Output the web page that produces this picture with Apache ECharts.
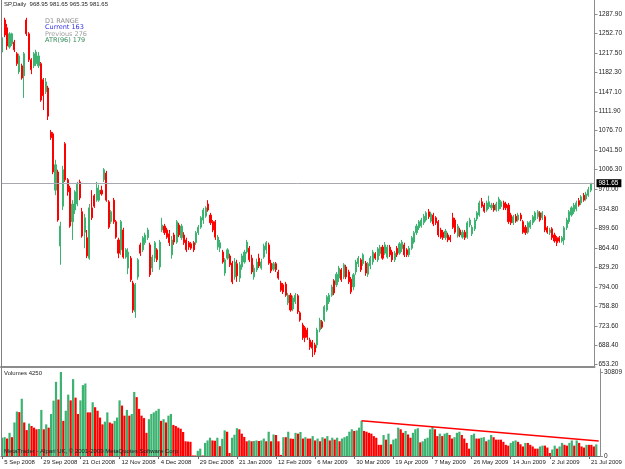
<!DOCTYPE html>
<html lang="en">
<head>
<meta charset="UTF-8">
<title>SP,Daily</title>
<script src="https://cdn.jsdelivr.net/npm/echarts@6/dist/echarts.min.js"></script>
<style>
    html, body { margin: 0; padding: 0; background: #fff; }
    #main { width: 625px; height: 469px; }
</style>
</head>
<body>
<div id="main"></div>
<script>
    // daily bars (5 Sep 2008 .. 24 Jul 2009)
    var opens = [
        1219,1277,1263,1228,1234,1237,1216,1183,1194,1176,
        1277,1252,1205,1194,1198,1194,1198,1169,1147,1154,
        1074,1071,969,1002,868,940,1053,988,973,912,
        933,944,984,930,893,883,846,937,959,951,
        951,969,988,1000,948,912,951,912,879,861,
        897,848,828,846,801,749,812,870,861,874,
        883,870,828,846,861,830,897,904,897,890,
        852,888,875,906,883,888,879,874,872,874,
        874,892,902,915,922,944,924,912,912,866,
        864,857,819,846,850,837,812,836,810,830,
        839,857,864,846,812,825,846,828,848,861,
        870,837,826,836,821,801,798,799,765,779,
        754,767,778,747,725,720,716,698,694,689,
        689,716,731,734,752,767,779,805,798,810,
        825,812,830,821,808,794,821,836,843,836,
        837,817,832,839,854,843,854,866,855,848,
        866,857,843,864,855,863,870,861,852,864,
        875,892,901,904,910,915,930,913,924,919,
        912,897,893,883,888,884,919,915,886,897,
        884,893,884,906,890,899,917,924,948,942,
        933,939,937,942,933,935,939,946,944,942,
        924,910,922,915,924,912,902,893,902,910,
        915,921,928,919,921,901,892,899,888,883,
        883,877,879,901,912,924,930,935,950,946,
        960,953,960,968.95
    ];
    var closes = [
        1245,1250,1230,1252,1252,1223,1198,1212,1172,1216,
        1252,1205,1187,1216,1219,1212,1132,1140,1165,1103,
        1064,1002,1015,915,904,1006,988,966,904,944,
        966,980,955,886,919,850,937,919,940,973,
        969,962,1006,951,902,930,912,884,855,912,
        848,861,857,807,752,798,843,855,883,888,
        897,816,848,874,843,875,906,892,884,874,
        879,875,912,888,904,874,861,866,864,861,
        892,902,919,933,937,933,910,897,884,884,
        874,839,843,861,834,803,839,814,834,850,
        857,875,843,821,828,839,832,839,868,874,
        837,823,836,825,810,788,785,779,779,752,
        774,779,749,734,702,702,703,685,683,676,
        716,734,721,758,776,779,794,783,817,828,
        807,834,812,803,785,816,839,846,825,852,
        819,836,846,857,846,863,866,846,870,866,
        852,843,855,852,872,875,852,852,864,883,
        892,904,912,915,922,928,921,926,908,910,
        888,884,883,895,879,879,902,893,904,888,
        893,883,910,915,902,915,928,946,940,931,
        946,948,942,933,944,953,948,937,937,912,
        910,921,913,924,917,893,892,910,912,921,
        928,930,915,928,897,893,897,883,877,874,
        877,883,901,915,930,937,942,946,942,957,
        951,962,970,981.65
    ];
    var lows = [
        1216,1246,1223,1225,1230,1219,1194,1179,1169,1136,
        1248,1201,1179,1190,1194,1190,1129,1114,1143,1096,
        1060,998,960,912,834,933,984,959,901,879,
        926,940,951,883,864,846,843,915,937,948,
        948,959,984,948,899,908,908,881,846,852,
        845,845,817,803,747,738,807,850,857,870,
        879,812,821,839,839,825,893,888,881,868,
        845,870,872,884,879,870,857,861,861,857,
        870,888,899,908,919,930,906,893,879,861,
        857,836,814,843,830,799,807,803,803,825,
        836,854,839,817,807,821,828,825,845,854,
        834,819,823,821,807,785,781,776,761,749,
        750,763,745,731,698,694,698,680,667,671,
        683,712,718,731,749,763,776,779,794,803,
        803,808,808,799,781,788,816,830,821,832,
        814,812,826,834,843,839,850,843,852,845,
        848,839,839,848,852,857,848,848,848,861,
        872,888,897,901,906,912,917,910,904,906,
        884,881,879,879,875,875,899,890,883,884,
        881,879,881,902,886,895,913,921,937,928,
        930,935,933,930,930,931,935,933,933,908,
        906,906,910,912,913,890,888,890,899,906,
        912,917,912,915,893,890,888,879,874,868,
        874,874,870,897,908,921,926,931,939,942,
        948,950,957,965.35
    ];
    var highs = [
        1248,1281,1270,1255,1254,1241,1219,1216,1198,1219,
        1281,1255,1208,1219,1223,1219,1201,1172,1172,1158,
        1078,1074,1024,1006,912,1013,1056,991,977,951,
        969,984,988,937,926,897,944,969,962,984,
        979,977,1009,1004,951,933,955,915,883,915,
        901,864,864,850,805,801,846,874,886,892,
        901,874,852,877,864,879,919,908,901,897,
        886,892,915,910,908,893,883,877,875,877,
        895,906,922,937,940,951,928,915,915,888,
        879,861,846,864,854,841,846,843,839,854,
        861,879,868,852,834,845,854,845,872,877,
        874,843,839,839,825,805,801,803,783,783,
        778,783,781,750,729,723,720,702,698,693,
        720,738,734,761,779,783,798,808,821,832,
        828,837,834,825,812,819,843,850,846,855,
        841,839,850,861,857,866,870,870,875,870,
        870,861,859,868,875,879,874,864,868,886,
        895,908,915,919,926,931,935,930,928,922,
        915,901,897,899,892,888,928,919,908,901,
        897,897,913,919,906,919,931,950,955,946,
        950,959,946,946,948,957,951,950,948,946,
        928,924,926,928,928,915,906,913,915,924,
        931,933,931,931,924,904,901,902,892,886,
        886,886,904,919,933,940,946,950,955,960,
        964,966,975,981.65
    ];
    var volumes = [
        6700,6900,6400,8500,6900,12300,16300,16100,21000,12300,
        9500,11900,11000,10400,9800,9900,16900,9800,11600,10400,
        15400,20300,27200,20700,30809,12900,16600,22500,20400,28200,
        21400,15400,20400,26000,26600,16000,16000,19700,17900,16600,
        14100,11600,12600,16000,12300,11900,12900,14100,20400,18500,
        14800,16900,14800,15400,23500,21600,17300,14800,13900,8500,
        13500,15400,16000,16600,17300,12900,13500,12300,14800,15400,
        11400,11000,10400,10000,8800,5400,5300,5200,200,200,
        1900,2700,200,4800,5700,6700,5700,5600,6700,3600,
        6300,9400,8900,1100,6700,7800,10200,9800,8200,7000,
        5400,5700,5400,5500,5700,5500,5700,6400,5400,8900,
        5400,7900,7700,5400,400,6900,6900,8900,6400,6300,
        8500,8200,8800,6400,6900,6400,6400,7300,5700,6400,
        5400,6900,6400,7300,5700,6700,6000,6700,5400,6400,
        6900,7300,8900,9800,9200,9400,10400,12900,9200,8900,
        8500,8200,7300,6700,4100,4100,7700,6000,8200,4300,
        6000,6400,10400,9800,8500,9200,7900,6700,8500,9800,
        10200,5000,5400,6300,6700,9800,10700,9800,7300,8200,
        7300,8200,8500,7700,6400,6900,8500,8900,7700,6400,
        4800,2700,7700,8200,6400,6400,6700,6900,5400,6000,
        7700,6900,6000,6000,6000,5200,4100,3800,4800,5400,
        5700,5200,4300,3500,4800,4800,4100,3500,2700,2700,
        3500,3800,3800,3100,1100,2400,3800,2700,3500,4800,
        4100,3800,4800,5700,3800,5700,4800,3500,3100,4100,
        4100,4100,3500,4250
    ];

    // time axis labels, one every 16 bars
    var dateLabels = ['5 Sep 2008', '29 Sep 2008', '21 Oct 2008', '12 Nov 2008', '4 Dec 2008',
        '29 Dec 2008', '21 Jan 2009', '12 Feb 2009', '6 Mar 2009', '30 Mar 2009', '19 Apr 2009',
        '7 May 2009', '26 May 2009', '14 Jun 2009', '2 Jul 2009', '21 Jul 2009'];
    var priceTicks = [653.2, 688.4, 723.6, 758.8, 794.0, 829.2, 864.4, 899.6, 934.8, 970.0,
        1006.3, 1041.5, 1076.7, 1111.9, 1147.1, 1182.3, 1217.5, 1252.7, 1287.9];
    var volumeTicks = [0, 30809];
    var lastPrice = 981.65;
    var trendStart = [147, 12900];
    var trendEnd = [244, 5500];

    var labelStep = 16;
    var categories = [];
    for (var i = 0; i < 245; i++) {
        categories.push(i);
    }
    var candles = opens.map(function (o, i) {
        return [o, closes[i], lows[i], highs[i]];
    });

    var green = '#3cb371';
    var red = '#ff0000';
    var font = 'Liberation Sans';

    function isLabelBar(index) {
        return index % labelStep === 0 && index / labelStep < dateLabels.length;
    }

    var myChart = echarts.init(document.getElementById('main'));
    var option = {
        animation: false,
        backgroundColor: '#ffffff',
        grid: [
            {left: 1, top: 0, width: 599, height: 366.5},
            {left: 1, top: 369, width: 599, height: 87}
        ],
        xAxis: [
            {
                type: 'category', gridIndex: 0, data: categories,
                axisLine: {show: true, lineStyle: {color: '#8c8c8c', width: 2}},
                axisTick: {show: false}, axisLabel: {show: false}, splitLine: {show: false}
            },
            {
                type: 'category', gridIndex: 1, data: categories,
                axisLine: {show: true, lineStyle: {color: '#6e6e6e'}},
                axisTick: {show: true, alignWithLabel: true, interval: isLabelBar, length: 3,
                    lineStyle: {color: '#6e6e6e'}},
                axisLabel: {
                    interval: isLabelBar, align: 'left', margin: 3, padding: [0, 0, 0, 2],
                    fontSize: 6, fontFamily: font, color: '#222',
                    formatter: function (value, index) {
                        return dateLabels[index / labelStep] || '';
                    }
                },
                splitLine: {show: false}
            }
        ],
        yAxis: [
            {
                type: 'value', gridIndex: 0, position: 'right', min: 649.9, max: 1313.2,
                splitLine: {show: false},
                axisLine: {show: true, lineStyle: {color: '#8c8c8c'}},
                axisTick: {show: true, length: 3, customValues: priceTicks, lineStyle: {color: '#8c8c8c'}},
                axisLabel: {
                    customValues: priceTicks, margin: 4, fontSize: 6.5, fontFamily: font, color: '#222',
                    formatter: function (v) { return v.toFixed(2); }
                }
            },
            {
                type: 'value', gridIndex: 1, position: 'right', min: 0, max: 31910,
                splitLine: {show: false},
                axisLine: {show: true, lineStyle: {color: '#8c8c8c'}},
                axisTick: {show: true, length: 3, customValues: volumeTicks, lineStyle: {color: '#8c8c8c'}},
                axisLabel: {
                    customValues: volumeTicks, margin: 4, fontSize: 6.5, fontFamily: font, color: '#222',
                    formatter: function (v) { return String(v); }
                }
            }
        ],
        series: [
            {
                type: 'candlestick', xAxisIndex: 0, yAxisIndex: 0,
                data: candles, barWidth: 1.6,
                itemStyle: {color: green, color0: red, borderColor: green, borderColor0: red, borderWidth: 1},
                markLine: {
                    silent: true, symbol: ['none', 'none'],
                    lineStyle: {color: '#a8a8b0', type: 'solid', width: 1},
                    label: {
                        show: true, position: 'end', distance: 2,
                        formatter: lastPrice.toFixed(2),
                        backgroundColor: '#000', color: '#fff',
                        fontSize: 6.5, fontFamily: font, padding: [1, 3, 0, 2]
                    },
                    data: [{yAxis: lastPrice}]
                }
            },
            {
                type: 'bar', xAxisIndex: 1, yAxisIndex: 1,
                data: volumes, barWidth: 2.2,
                itemStyle: {
                    color: function (p) {
                        var i = p.dataIndex;
                        return (i === 0 || volumes[i] > volumes[i - 1]) ? green : red;
                    }
                },
                markLine: {
                    silent: true, symbol: ['none', 'none'],
                    lineStyle: {color: '#ff0000', type: 'solid', width: 1.5},
                    label: {show: false},
                    data: [[{coord: trendStart}, {coord: trendEnd}]]
                }
            }
        ],
        graphic: [
            {type: 'line', z: 100, shape: {x1: 1.5, y1: 0, x2: 1.5, y2: 456}, style: {stroke: '#808080', lineWidth: 1}},
            {type: 'text', z: 100, x: 4, y: 1, style: {text: 'SP,Daily  968.95 981.65 965.35 981.65',
                    font: '6px "Liberation Sans"', fill: '#222', verticalAlign: 'top'}},
            {type: 'text', z: 100, x: 45, y: 17.5, style: {text: 'D1 RANGE', font: '6.5px "DejaVu Sans"', fill: '#8c8c8c', verticalAlign: 'top'}},
            {type: 'text', z: 100, x: 45, y: 24, style: {text: 'Current 163', font: '6.5px "DejaVu Sans"', fill: '#3232e6', verticalAlign: 'top'}},
            {type: 'text', z: 100, x: 45, y: 30.5, style: {text: 'Previous 276', font: '6.5px "DejaVu Sans"', fill: '#a0a0a0', verticalAlign: 'top'}},
            {type: 'text', z: 100, x: 45, y: 36.5, style: {text: 'ATR(96) 179', font: '6.5px "DejaVu Sans"', fill: '#2e8b57', verticalAlign: 'top'}},
            {type: 'text', z: 100, x: 4, y: 370.5, style: {text: 'Volumes 4250', font: '6px "Liberation Sans"', fill: '#222', verticalAlign: 'top'}},
            {type: 'text', z: 100, x: 4, y: 448, style: {text: 'MetaTrader - Alpari UK, \u00a9 2001-2009 MetaQuotes Software Corp.',
                    font: '6px "Liberation Sans"', fill: '#222', verticalAlign: 'top'}}
        ]
    };
    myChart.setOption(option);
</script>
</body>
</html>
